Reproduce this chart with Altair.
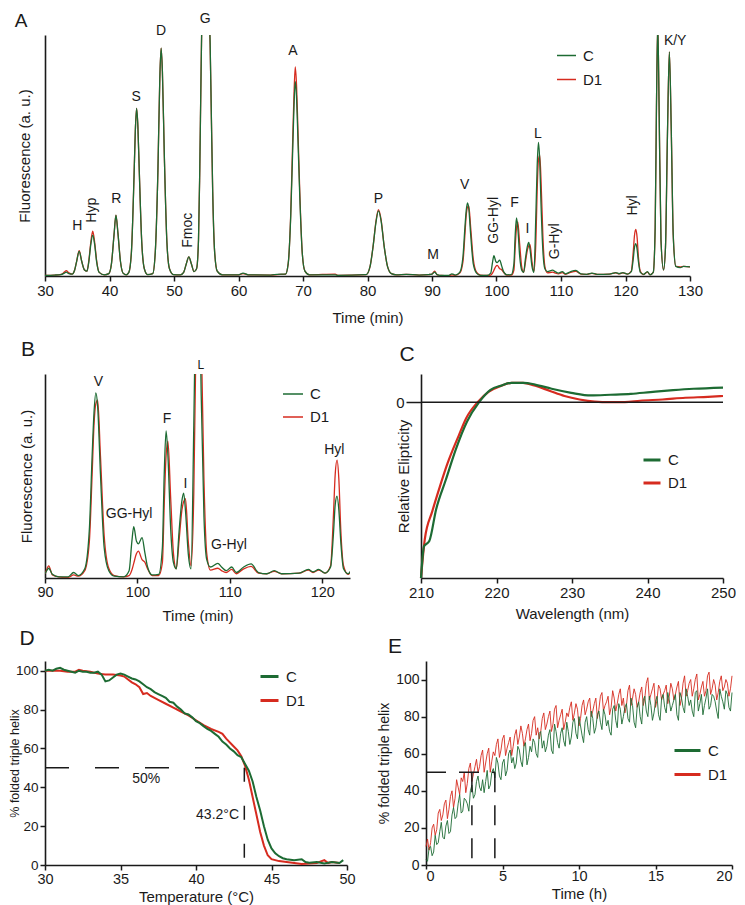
import altair as alt
import pandas as pd

GREEN = "#1d6b33"
RED = "#d62b1f"
BLACK = "#1a1a1a"
FONT = "Liberation Sans"
SERIES = ["C", "D1"]

# ---------------- Panel A / B : amino-acid chromatogram ----------------
CHROM_TIME = [30.0, 31.5, 32.5, 33.0, 33.3, 33.7, 34.2, 34.6, 34.9, 35.3, 35.7, 36.1, 36.5, 36.8, 37.1, 37.4,
              37.7, 38.0, 38.4, 39.2, 39.9, 40.3, 40.7, 41.0, 41.3, 41.7, 42.1, 42.6, 43.0, 43.4, 43.8, 44.0,
              44.2, 44.4, 44.6, 45.0, 45.4, 45.9, 46.7, 47.1, 47.5, 47.8, 48.0, 48.2, 48.5, 48.9, 49.3, 49.9,
              51.0, 51.5, 51.9, 52.3, 52.7, 53.1, 53.5, 53.8, 54.0, 54.2, 54.4, 55.0, 55.4, 55.6, 55.8, 56.0,
              56.3, 56.7, 57.5, 60.0, 60.7, 61.5, 65.0, 66.0, 67.3, 67.7, 68.1, 68.4, 68.6, 68.8, 69.0, 69.2,
              69.5, 69.9, 70.3, 71.0, 75.0, 75.4, 79.8, 80.4, 80.9, 81.3, 81.7, 82.1, 82.6, 83.1, 83.7, 84.5,
              86.0, 88.0, 89.5, 90.0, 90.4, 90.8, 91.5, 92.5, 93.1, 93.6, 94.3, 94.8, 95.1, 95.3, 95.5, 95.7,
              96.0, 96.4, 96.9, 97.5, 98.5, 99.1, 99.4, 99.6, 99.9, 100.1, 100.5, 100.8, 101.1, 101.6, 102.3,
              102.7, 102.9, 103.1, 103.3, 103.6, 103.9, 104.2, 104.5, 104.8, 105.0, 105.2, 105.5, 105.8, 106.1,
              106.3, 106.5, 106.7, 106.9, 107.2, 107.5, 107.9, 108.7, 109.1, 109.6, 110.2, 110.7, 111.5, 112.3,
              113.1, 114.0, 114.8, 115.6, 117.5, 118.5, 119.0, 119.6, 120.3, 120.9, 121.2, 121.4, 121.6, 121.8,
              122.0, 122.3, 122.8, 123.4, 123.8, 124.3, 124.6, 124.8, 125.0, 125.2, 125.5, 125.9, 126.2, 126.5,
              126.8, 127.1, 127.4, 127.8, 128.5, 129.0, 130.0]
CHROM_C = [0.3, 0.4, 0.6, 1.2, 1.6, 1.0, 0.8, 2.5, 6.0, 10.2, 6.0, 2.6, 2.0, 6.0, 13.0, 16.9,
           13.0, 6.0, 1.5, 0.5, 1.0, 5.0, 17.0, 25.2, 18.0, 6.0, 1.2, 0.5, 1.5, 10.0, 41.0, 60.0,
           69.5, 62.0, 45.0, 14.0, 3.0, 0.6, 1.0, 10.0, 43.0, 82.0, 94.5, 85.0, 50.0, 14.0, 3.0, 0.6,
           0.5, 1.5, 5.0, 7.9, 5.0, 1.8, 3.0, 15.0, 45.0, 85.0, 115.0, 130.0, 112.0, 97.0, 65.0, 35.0,
           10.0, 2.0, 0.5, 0.5, 1.2, 0.5, 0.4, 0.7, 0.8, 5.0, 25.0, 52.0, 70.0, 80.6, 74.0, 58.0,
           33.0, 9.0, 2.0, 0.5, 0.5, 0.3, 0.6, 4.0, 13.0, 22.0, 27.0, 23.0, 12.0, 4.0, 1.0, 0.5,
           0.7, 0.4, 0.6, 0.8, 1.6, 0.6, 0.2, 0.2, 0.9, 0.4, 1.5, 8.0, 20.0, 27.0, 30.3, 28.0,
           17.0, 5.0, 1.2, 0.3, 0.2, 1.2, 6.0, 8.4, 6.0, 5.6, 6.6, 4.2, 1.8, 0.5, 0.6,
           5.0, 17.0, 24.1, 20.0, 8.0, 2.5, 1.5, 7.5, 12.5, 13.9, 11.0, 4.0, 1.5, 25.0,
           45.0, 55.4, 48.0, 30.0, 10.0, 3.0, 1.8, 2.4, 1.8, 1.2, 1.8, 0.9, 1.8, 2.3,
           0.9, 0.7, 1.2, 0.7, 0.8, 1.4, 1.0, 1.4, 0.8, 1.8, 7.0, 12.0, 13.4, 11.0,
           6.0, 1.5, 0.7, 1.8, 0.5, 1.5, 20.0, 70.0, 105.0, 72.0, 15.0, 2.5, 12.0, 58.0,
           93.0, 60.0, 17.0, 4.0, 3.5, 4.0, 3.8]
CHROM_D1 = [0.3, 0.4, 0.7, 1.6, 2.2, 1.3, 0.8, 2.5, 6.0, 10.5, 6.0, 2.6, 2.0, 6.5, 14.0, 18.6,
            14.0, 6.5, 1.5, 0.5, 1.0, 5.0, 17.0, 25.2, 18.0, 6.0, 1.2, 0.5, 1.5, 10.0, 41.0, 60.0,
            69.5, 62.0, 45.0, 14.0, 3.0, 0.6, 1.0, 10.0, 43.0, 82.0, 94.5, 85.0, 50.0, 14.0, 3.0, 0.6,
            0.5, 1.5, 5.0, 7.9, 5.0, 1.8, 3.0, 15.0, 45.0, 85.0, 115.0, 130.0, 110.0, 96.0, 65.0, 35.0,
            10.0, 2.0, 0.5, 0.5, 1.0, 0.5, 0.4, 0.6, 0.8, 5.0, 26.0, 56.0, 75.0, 86.8, 79.0, 62.0,
            35.0, 9.0, 2.0, 0.5, 0.8, 0.3, 0.6, 4.0, 13.0, 22.5, 27.5, 23.5, 12.0, 4.0, 1.0, 0.5,
            0.7, 0.4, 0.6, 0.8, 2.0, 0.5, 0.2, 0.1, 0.5, 0.3, 1.2, 6.0, 17.0, 25.0, 28.5, 29.1,
            20.0, 7.0, 1.6, 0.4, 0.2, 0.4, 1.3, 2.4, 4.0, 4.4, 3.0, 2.6, 1.5, 0.4, 0.4,
            2.5, 12.0, 20.0, 22.4, 13.0, 4.0, 1.5, 6.0, 11.0, 12.5, 13.0, 6.0, 2.0, 14.0,
            35.0, 48.0, 50.1, 40.0, 16.0, 4.0, 1.3, 1.6, 1.2, 0.9, 1.4, 0.7, 1.5, 1.9,
            0.8, 0.7, 1.1, 0.7, 0.8, 1.3, 0.9, 1.3, 0.8, 2.0, 10.0, 17.0, 19.3, 16.0,
            8.0, 2.0, 0.6, 1.6, 0.5, 1.5, 20.0, 70.0, 105.0, 72.0, 15.0, 2.5, 12.0, 58.0,
            93.0, 60.0, 17.0, 4.0, 3.8, 4.0, 3.8]

A_LABELS = ["H", "R", "S", "D", "G", "A", "P", "M", "V", "F", "I", "L", "K/Y"]
A_LABEL_T = [35.0, 41.05, 44.15, 48.0, 54.85, 68.45, 81.7, 90.15, 95.07, 102.8, 104.8, 106.4, 127.7]
A_LABEL_V = [20.7, 31.8, 74.3, 101.5, 106.8, 93.2, 32.1, 8.6, 37.9, 30.3, 19.6, 59.0, 97.4]
A_VLABELS = ["Hyp", "Fmoc", "GG-Hyl", "G-Hyl", "Hyl"]
A_VLABEL_T = [37.3, 52.2, 99.6, 109.0, 121.2]
A_VLABEL_V = [27.3, 19.0, 23.1, 14.4, 29.3]

B_LABELS = ["V", "F", "I", "GG-Hyl", "G-Hyl", "Hyl"]
B_LABEL_T = [95.77, 103.2, 105.2, 99.1, 109.9, 121.3]
B_LABEL_V = [32.1, 26.1, 15.4, 10.5, 5.35, 20.9]
B_SMALL_LABELS = ["L"]
B_SMALL_T = [106.85]
B_SMALL_V = [34.9]

# ---------------- Panel C : CD spectra ----------------
CD_WL_C = [210, 210.4, 211.1, 212.0, 213.3, 214.6, 216.1, 217.7, 219.2, 220.7, 222.0, 223.6, 225.1,
           227.3, 229.9, 232.5, 235.1, 237.8, 240.4, 243.4, 246.1, 250]
CD_C = [-1.0, -0.82, -0.79, -0.61, -0.44, -0.27, -0.11, 0.0, 0.07, 0.095, 0.11, 0.11, 0.10,
        0.076, 0.053, 0.038, 0.042, 0.047, 0.057, 0.068, 0.076, 0.083]
CD_WL_D1 = [210, 210.5, 211.5, 212.5, 213.5, 215.0, 216.0, 217.5, 219.0, 220.5, 222.0, 223.5, 225.0,
            227.0, 229.0, 231.0, 233.0, 235.0, 237.0, 239.0, 242.0, 245.0, 248.0, 250]
CD_D1 = [-1.0, -0.78, -0.62, -0.48, -0.35, -0.19, -0.09, 0.0, 0.06, 0.09, 0.11, 0.11, 0.095,
         0.065, 0.035, 0.015, 0.003, 0.0, 0.0, 0.008, 0.015, 0.025, 0.03, 0.035]
CD_ZERO = [210, 250]

# ---------------- Panel D : thermal melting ----------------
MELT_T_C = [30.0, 30.25, 30.5, 30.75, 31.0, 31.25, 31.5, 31.75, 32.0, 32.25, 32.5, 32.75, 33.0, 33.25,
            33.5, 33.75, 34.0, 34.25, 34.5, 34.75, 35.0, 35.25, 35.5, 35.75, 36.0, 36.25, 36.5, 36.75,
            37.0, 37.25, 37.5, 37.75, 38.0, 38.25, 38.5, 38.75, 39.0, 39.25, 39.5, 39.75, 40.0, 40.25,
            40.5, 40.75, 41.0, 41.25, 41.5, 41.75, 42.0, 42.25, 42.5, 42.75, 43.0, 43.25, 43.5, 43.75,
            44.0, 44.25, 44.5, 44.75, 45.0, 45.25, 45.5, 45.75, 46.0, 46.5, 47.0, 47.25, 47.5, 48.0,
            48.5, 49.0, 49.5, 49.75]
MELT_C = [100, 100.5, 100, 101, 101.5, 100.5, 100, 99.5, 99, 100, 99.5, 99.5, 99, 99,
          99.5, 98, 94.5, 95, 96.5, 98, 98.5, 98, 97, 96, 95.5, 94.5, 93, 91.5,
          90.5, 89, 88, 87, 86, 84, 83.5, 81.5, 80, 78, 77.5, 76, 74, 73,
          71.5, 70, 69, 67.5, 66, 63.5, 62, 60, 58.5, 56.5, 55.5, 52, 48.5, 43,
          35, 28, 20, 13, 8.5, 6, 4.5, 3.5, 3, 2.5, 3, 1.5, 1.2, 1.5,
          0.8, 1.5, 1.0, 2.5]
MELT_T_D1 = [30.0, 30.5, 31.0, 31.5, 32.0, 32.25, 32.5, 33.0, 33.5, 34.0, 34.5, 35.0, 35.25, 35.5,
             35.75, 36.0, 36.25, 36.5, 36.75, 37.0, 37.5, 38.0, 38.5, 39.0, 39.5, 40.0, 40.5, 41.0,
             41.5, 41.75, 42.0, 42.5, 42.75, 43.0, 43.25, 43.5, 43.75, 44.0, 44.25, 44.5, 44.75, 45.0,
             45.5, 46.0, 46.5, 47.0, 47.5, 48.0, 48.5, 48.75, 49.0, 49.5]
MELT_D1 = [100, 100, 100, 99.5, 99.5, 100.5, 100, 99.5, 98.5, 98, 98, 97.5, 97, 95.5,
           94, 93, 91.5, 88, 88.5, 87, 85, 83, 81, 79, 77, 74.5, 72, 70,
           68.5, 67.5, 65, 61, 59, 56, 51, 44, 35, 26, 17, 10, 5, 3,
           2, 1.5, 1.0, 0.5, 0.8, 1.0, 2.5, 1.0, 1.5, 1.0]
MELT_H_X = [30.0]
MELT_H_X2 = [43.2]
MELT_H_Y = [50]
MELT_V_X = [43.2]
MELT_V_Y = [50]
MELT_V_Y2 = [0]
MELT_TEXT = ["50%", "43.2°C"]
MELT_TEXT_T = [36.7, 42.85]
MELT_TEXT_V = [44.5, 25.6]

# ---------------- Panel E : refolding kinetics (noisy traces) ----------------
# readings at 0.0, 0.2, 0.4 ... 20.0 h
FOLD_C_A = [3, 9, 5, 16, 12, 23, 14, 24, 18, 31, 26, 38, 29, 35, 29, 43, 38, 48, 40, 39,
            51, 43, 52, 58, 48, 55, 48, 60, 55, 52, 64, 56, 64, 54, 64, 68, 60, 71, 63, 61,
            70, 62, 76, 66, 71, 67, 77, 65, 77, 71, 80, 70, 77, 73, 83, 71, 81, 77, 84, 75,
            72, 84, 78, 87, 76, 85, 79, 90, 77, 85, 80, 89, 83, 91, 78, 88, 81, 90, 85, 93,
            83, 89, 81, 93, 85, 95, 86, 83, 93, 83, 92, 86, 95, 86, 91, 83, 95, 88, 94, 85, 93]
# readings at 0.1, 0.3, 0.5 ... 19.9 h
FOLD_C_B = [2, 10, 7, 11, 18, 15, 21, 17, 27, 25, 33, 28, 36, 33, 40, 36, 45, 42, 46, 45,
            41, 50, 47, 55, 46, 57, 51, 62, 58, 55, 62, 53, 66, 58, 61, 66, 58, 72, 67, 64,
            73, 60, 72, 63, 74, 64, 72, 69, 79, 68, 75, 66, 80, 70, 79, 74, 83, 73, 81, 78,
            70, 86, 74, 84, 80, 87, 77, 86, 74, 88, 76, 91, 80, 86, 82, 91, 78, 92, 82, 89,
            86, 92, 78, 90, 82, 91, 89, 80, 94, 87, 81, 90, 84, 92, 88, 79, 91, 84, 92, 83]
FOLD_D1_A = [10, 8, 20, 16, 28, 24, 33, 25, 37, 31, 46, 38, 45, 39, 52, 45, 53, 50, 59, 50,
             60, 50, 61, 65, 58, 68, 59, 66, 59, 70, 65, 75, 64, 73, 67, 78, 70, 68, 79, 73,
             80, 72, 84, 74, 81, 73, 82, 85, 78, 87, 75, 86, 81, 88, 80, 87, 79, 91, 83, 88,
             81, 94, 83, 92, 86, 82, 94, 86, 95, 85, 93, 86, 98, 89, 95, 85, 97, 89, 94, 87,
             98, 89, 96, 86, 98, 91, 98, 91, 100, 89, 96, 91, 102, 92, 100, 89, 99, 94, 100, 91, 102]
FOLD_D1_B = [14, 12, 22, 19, 30, 27, 35, 30, 40, 36, 42, 47, 50, 44, 55, 49, 57, 53, 62, 55,
             63, 56, 59, 68, 62, 70, 63, 69, 64, 73, 69, 71, 68, 76, 71, 80, 74, 72, 82, 76,
             83, 76, 86, 78, 84, 77, 80, 88, 82, 84, 79, 89, 84, 90, 83, 90, 84, 93, 86, 91,
             85, 90, 87, 95, 90, 86, 97, 90, 92, 88, 96, 90, 101, 92, 98, 89, 95, 92, 97, 91,
             95, 92, 99, 90, 102, 94, 100, 95, 103, 92, 99, 94, 104, 95, 97, 93, 102, 96, 98, 95]
FOLD_RULE_X = [0.0, 3.0, 4.5]
FOLD_RULE_X2 = [4.5, 3.0, 4.5]
FOLD_RULE_Y = [50, 50, 50]
FOLD_RULE_Y2 = [50, 0, 0]


# ---------------- helpers ----------------
def color_enc(lx, ly, sym_len, sym_w, label_size, row_pad):
    return alt.Color(
        "series:N",
        scale=alt.Scale(domain=SERIES, range=[GREEN, RED]),
        legend=alt.Legend(orient="none", legendX=lx, legendY=ly, title=None,
                          symbolType="stroke", symbolSize=sym_len * sym_len,
                          symbolStrokeWidth=sym_w, labelFontSize=label_size,
                          labelFont=FONT, labelColor=BLACK, rowPadding=row_pad,
                          labelOffset=6, padding=0),
    )


def xaxis(values, title, lsize, title_y, tsize=15, flush=False, tick=5, lpad=2):
    return alt.Axis(values=values, title=title, grid=False, domainColor=BLACK, domainWidth=1.6,
                    tickColor=BLACK, tickWidth=1.5, tickSize=tick, labelFontSize=lsize, labelPadding=lpad,
                    labelFont=FONT, titleFont=FONT, labelColor=BLACK, titleColor=BLACK,
                    titleFontSize=tsize, titleFontWeight="normal", titleY=title_y, format="d",
                    labelFlush=flush)


def yaxis_blank(title, title_x, tsize=15):
    return alt.Axis(title=title, labels=False, ticks=False, grid=False, domainColor=BLACK,
                    domainWidth=1.6, titleFont=FONT, titleColor=BLACK, titleFontSize=tsize,
                    titleFontWeight="normal", titleX=title_x)


def yaxis_num(values, title, title_x, lsize=14, tsize=14):
    return alt.Axis(values=values, title=title, grid=False, domainColor=BLACK, domainWidth=1.6,
                    tickColor=BLACK, tickWidth=1.5, tickSize=5, labelFontSize=lsize, labelPadding=2,
                    labelFont=FONT, titleFont=FONT, labelColor=BLACK, titleColor=BLACK,
                    titleFontSize=tsize, titleFontWeight="normal", titleX=title_x, format="d")


def letter(ch, dx, dy, size=21):
    return alt.Chart(pd.DataFrame({"txt": [ch]})).mark_text(
        fontSize=size, font=FONT, color=BLACK, align="center", baseline="middle"
    ).encode(x=alt.value(dx), y=alt.value(dy), text="txt:N")


def text_layer(labels, ts, vs, xenc, yenc, size=14, angle=0):
    df = pd.DataFrame({"t": ts, "v": vs, "lab": labels})
    return alt.Chart(df).mark_text(fontSize=size, font=FONT, color=BLACK, angle=angle,
                                   align="center", baseline="middle").encode(
        x=xenc, y=yenc, text="lab:N")


# ---------------- Panel A ----------------
chrom_c = pd.DataFrame({"t": CHROM_TIME, "v": CHROM_C, "series": "C"})
chrom_d = pd.DataFrame({"t": CHROM_TIME, "v": CHROM_D1, "series": "D1"})

xA = alt.X("t:Q", scale=alt.Scale(domain=[30, 130], nice=False, zero=False),
           axis=xaxis(list(range(30, 131, 10)), "Time (min)", 15, 34))
yA = alt.Y("v:Q", scale=alt.Scale(domain=[0, 100], nice=False),
           axis=yaxis_blank("Fluorescence (a. u.)", -13))
colA = color_enc(511, 10, 19, 1.5, 15, 5)

lineA_d = alt.Chart(chrom_d).mark_line(strokeWidth=1.3, interpolate="monotone", clip=True).encode(
    x=xA, y=yA, color=colA)
lineA_c = alt.Chart(chrom_c).mark_line(strokeWidth=1.3, interpolate="monotone", clip=True).encode(
    x=xA, y=yA, color=colA)
panelA = alt.layer(
    lineA_d, lineA_c,
    text_layer(A_LABELS, A_LABEL_T, A_LABEL_V, "t:Q", "v:Q", 14),
    text_layer(A_VLABELS, A_VLABEL_T, A_VLABEL_V, "t:Q", "v:Q", 14, 270),
    letter("A", -24, -14, 19),
).properties(width=645, height=241)

# ---------------- Panel B ----------------
xB = alt.X("t:Q", scale=alt.Scale(domain=[90, 123], nice=False, zero=False),
           axis=xaxis([90, 100, 110, 120], "Time (min)", 14.5, 30))
yB = alt.Y("v:Q", scale=alt.Scale(domain=[0, 33.4], nice=False),
           axis=yaxis_blank("Fluorescence (a. u.)", -11))
colB = color_enc(237, 9, 20, 1.5, 15, 4)
chrom_c_B = chrom_c[(chrom_c.t >= 89) & (chrom_c.t <= 124)]
chrom_d_B = chrom_d[(chrom_d.t >= 89) & (chrom_d.t <= 124)]
lineB_d = alt.Chart(chrom_d_B).mark_line(strokeWidth=1.3, interpolate="monotone", clip=True).encode(
    x=xB, y=yB, color=colB)
lineB_c = alt.Chart(chrom_c_B).mark_line(strokeWidth=1.3, interpolate="monotone", clip=True).encode(
    x=xB, y=yB, color=colB)
panelB = alt.layer(
    lineB_d, lineB_c,
    text_layer(B_LABELS, B_LABEL_T, B_LABEL_V, "t:Q", "v:Q", 14),
    text_layer(B_SMALL_LABELS, B_SMALL_T, B_SMALL_V, "t:Q", "v:Q", 12),
    letter("B", -17, -24),
).properties(width=305, height=204)

# ---------------- Panel C ----------------
cd_c = pd.DataFrame({"t": CD_WL_C, "v": CD_C, "series": "C"})
cd_d = pd.DataFrame({"t": CD_WL_D1, "v": CD_D1, "series": "D1"})
xC = alt.X("t:Q", scale=alt.Scale(domain=[210, 250], nice=False, zero=False),
           axis=xaxis([210, 220, 230, 240, 250], "Wavelength (nm)", 15, 28))
yC = alt.Y("v:Q", scale=alt.Scale(domain=[-1, 0.16], nice=False, zero=False),
           axis=alt.Axis(values=[0], title="Relative Elipticity", grid=False, domainColor=BLACK,
                         domainWidth=1.6, tickColor=BLACK, tickWidth=1.5, tickSize=15,
                         labelFontSize=15, labelPadding=2, labelFont=FONT, titleFont=FONT,
                         labelColor=BLACK, titleColor=BLACK, titleFontSize=15,
                         titleFontWeight="normal", titleX=-10, format="d"))
colC = color_enc(221, 76, 17, 3, 15, 5)
zeroC = alt.Chart(pd.DataFrame({"t": [CD_ZERO[0]], "t2": [CD_ZERO[1]], "v": [0]})).mark_rule(
    color=BLACK, strokeWidth=1.5).encode(x=alt.X("t:Q"), x2="t2:Q", y=alt.Y("v:Q"))
lineC_d = alt.Chart(cd_d).mark_line(strokeWidth=2.2, interpolate="monotone").encode(x=xC, y=yC, color=colC)
lineC_c = alt.Chart(cd_c).mark_line(strokeWidth=2.2, interpolate="monotone").encode(x=xC, y=yC, color=colC)
panelC = alt.layer(lineC_d, lineC_c, zeroC, letter("C", -14, -19)).properties(width=302, height=204)

# ---------------- Panel D ----------------
melt_c = pd.DataFrame({"t": MELT_T_C, "v": MELT_C, "series": "C"})
melt_d = pd.DataFrame({"t": MELT_T_D1, "v": MELT_D1, "series": "D1"})
xD = alt.X("t:Q", scale=alt.Scale(domain=[30, 50], nice=False, zero=False),
           axis=xaxis([30, 35, 40, 45, 50], "Temperature (°C)", 14.5, 24))
yD = alt.Y("v:Q", scale=alt.Scale(domain=[0, 105], nice=False),
           axis=yaxis_num([0, 20, 40, 60, 80, 100], "% folded triple helix", -24, 13.5, 12.5))
colD = color_enc(214, 5, 18, 3, 15, 5)
lineD_d = alt.Chart(melt_d).mark_line(strokeWidth=2).encode(x=xD, y=yD, color=colD)
lineD_c = alt.Chart(melt_c).mark_line(strokeWidth=2).encode(x=xD, y=yD, color=colD)
hD = alt.Chart(pd.DataFrame({"t": MELT_H_X, "t2": MELT_H_X2, "v": MELT_H_Y})).mark_rule(
    color=BLACK, strokeWidth=1.5, strokeDash=[24, 26]).encode(x="t:Q", x2="t2:Q", y="v:Q")
vD = alt.Chart(pd.DataFrame({"t": MELT_V_X, "v": MELT_V_Y, "v2": MELT_V_Y2})).mark_rule(
    color=BLACK, strokeWidth=1.5, strokeDash=[14, 24]).encode(x="t:Q", y="v:Q", y2="v2:Q")
txtD = alt.Chart(pd.DataFrame({"t": MELT_TEXT_T, "v": MELT_TEXT_V, "lab": MELT_TEXT,
                               "al": ["center", "right"]}))
txtD1 = txtD.transform_filter(alt.datum.al == "center").mark_text(
    fontSize=14, font=FONT, color=BLACK, align="center", baseline="middle").encode(
    x="t:Q", y="v:Q", text="lab:N")
txtD2 = txtD.transform_filter(alt.datum.al == "right").mark_text(
    fontSize=14, font=FONT, color=BLACK, align="right", baseline="middle").encode(
    x="t:Q", y="v:Q", text="lab:N")
panelD = alt.layer(lineD_d, lineD_c, hD, vD, txtD1, txtD2, letter("D", -18, -22)).properties(
    width=302, height=204)

# ---------------- Panel E ----------------
fold_c = pd.concat([
    pd.DataFrame({"t": [round(0.2 * i, 1) for i in range(len(FOLD_C_A))], "v": FOLD_C_A}),
    pd.DataFrame({"t": [round(0.1 + 0.2 * i, 1) for i in range(len(FOLD_C_B))], "v": FOLD_C_B}),
]).sort_values("t").assign(series="C")
fold_d = pd.concat([
    pd.DataFrame({"t": [round(0.2 * i, 1) for i in range(len(FOLD_D1_A))], "v": FOLD_D1_A}),
    pd.DataFrame({"t": [round(0.1 + 0.2 * i, 1) for i in range(len(FOLD_D1_B))], "v": FOLD_D1_B}),
]).sort_values("t").assign(series="D1")
xE = alt.X("t:Q", scale=alt.Scale(domain=[0, 20], nice=False, zero=False),
           axis=xaxis([0, 5, 10, 15, 20], "Time (h)", 14.5, 21, flush=True, tick=4, lpad=0))
yE = alt.Y("v:Q", scale=alt.Scale(domain=[0, 110], nice=False),
           axis=yaxis_num([0, 20, 40, 60, 80, 100], "% folded triple helix", -35, 14, 14))
colE = color_enc(247, 75, 26, 3, 15, 1)
lineE_d = alt.Chart(fold_d).mark_line(strokeWidth=0.9).encode(x=xE, y=yE, color=colE)
lineE_c = alt.Chart(fold_c).mark_line(strokeWidth=0.9).encode(x=xE, y=yE, color=colE)
rulesE = alt.Chart(pd.DataFrame({"t": FOLD_RULE_X, "t2": FOLD_RULE_X2, "v": FOLD_RULE_Y,
                                 "v2": FOLD_RULE_Y2})).mark_rule(
    color=BLACK, strokeWidth=1.5, strokeDash=[20, 13]).encode(x="t:Q", x2="t2:Q", y="v:Q", y2="v2:Q")
panelE = alt.layer(lineE_d, lineE_c, rulesE, letter("E", -31, -14)).properties(width=306, height=204)

# ---------------- layout ----------------
spacer = alt.Chart(pd.DataFrame({"s": [0]})).mark_point(opacity=0).encode(
    x=alt.value(0), y=alt.value(0)).properties(width=1, height=91)

rowBC = alt.hconcat(panelB, panelC, spacing=71, bounds="flush").resolve_scale(
    color="independent", x="independent", y="independent")
rowDE = alt.hconcat(panelD, panelE, spacing=79, bounds="flush").resolve_scale(
    color="independent", x="independent", y="independent")
chart = alt.vconcat(panelA, rowBC, spacer, rowDE, spacing=98, bounds="flush").resolve_scale(
    color="independent", x="independent", y="independent"
).properties(
    padding={"left": 0, "top": 3, "right": 0, "bottom": 2}
).configure(font=FONT).configure_view(stroke=None)

chart.save("out.html", embed_options={"renderer": "svg", "actions": False})
